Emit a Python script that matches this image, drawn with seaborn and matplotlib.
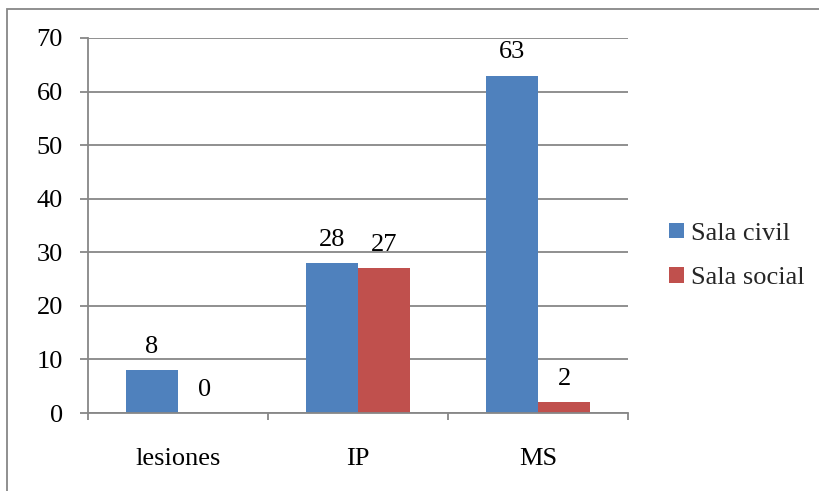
import matplotlib
matplotlib.use("Agg")
import matplotlib.pyplot as plt
from matplotlib.patches import Rectangle
import pandas as pd
import seaborn as sns

categories = ["lesiones", "IP", "MS"]
series_names = ["Sala civil", "Sala social"]
sala_civil = [8, 28, 63]
sala_social = [0, 27, 2]
y_ticks = [0, 10, 20, 30, 40, 50, 60, 70]

df = pd.DataFrame({
    "categoria": categories * 2,
    "sala": [series_names[0]] * len(categories) + [series_names[1]] * len(categories),
    "valor": sala_civil + sala_social,
})

sns.set_theme(style="white")
plt.rcParams["font.family"] = ["Liberation Serif", "DejaVu Serif"]
plt.rcParams["font.size"] = 19

grey = "#878787"
fig = plt.figure(figsize=(8.19, 4.91), dpi=100)
ax = fig.add_axes([88 / 819, 1 - 413 / 491, (628 - 88) / 819, (413 - 38) / 491])

sns.barplot(data=df, x="categoria", y="valor", hue="sala",
            order=categories, hue_order=series_names,
            palette=["#4F81BD", "#C0504D"], width=0.58, gap=0,
            saturation=1, linewidth=0, ax=ax)

for cont in ax.containers:
    ax.bar_label(cont, fmt="%d", padding=9, fontsize=19, color="black")

ax.set_xlim(-0.5, 2.5)
ax.set_ylim(0, 70)
ax.set_yticks(y_ticks)
ax.set_xlabel("")
ax.set_ylabel("")
ax.yaxis.grid(True, color=grey, linewidth=1.3)
ax.set_axisbelow(True)

for side in ["top", "right"]:
    ax.spines[side].set_visible(False)
for side in ["left", "bottom"]:
    ax.spines[side].set_color(grey)
    ax.spines[side].set_linewidth(1.3)

ax.tick_params(axis="y", left=True, length=6, width=1.3, color=grey, pad=12,
               labelsize=19, labelcolor="black")
ax.set_xticks([-0.5, 0.5, 1.5, 2.5], minor=True)
ax.tick_params(axis="x", which="major", bottom=False, pad=19,
               labelsize=19, labelcolor="black")
ax.tick_params(axis="x", which="minor", bottom=True, length=5, width=1.3,
               color=grey)

leg = ax.legend(loc="center left", bbox_to_anchor=(669 / 819, 1 - 256 / 491),
                bbox_transform=fig.transFigure, frameon=False, fontsize=19,
                handlelength=0.55, handleheight=0.55, handletextpad=0.3,
                labelspacing=0.85, borderpad=0, borderaxespad=0)

# chart area border
fig.patches.append(Rectangle((7 / 819, -0.05), 1.2, 1 - 9 / 491 + 0.05,
                             transform=fig.transFigure, fill=False,
                             edgecolor=grey, linewidth=1.3, zorder=-1))

fig.savefig("out.png", dpi=100, facecolor="white")
